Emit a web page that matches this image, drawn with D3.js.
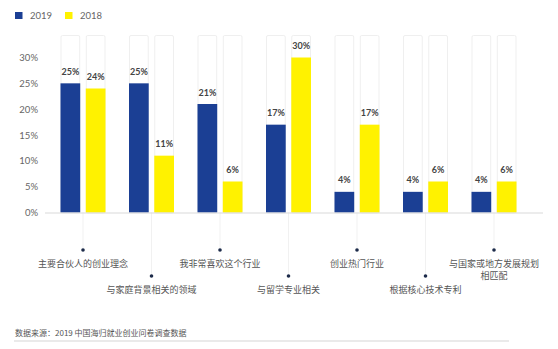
<!DOCTYPE html>
<html>
<head>
<meta charset="utf-8">
<script src="https://cdn.jsdelivr.net/npm/d3@7"></script>
<style>
  html, body { margin: 0; padding: 0; background: #fff; }
  svg { display: block; }
</style>
</head>
<body>
<svg id="chart" width="558" height="349"></svg>
<script>
// Reasons for choosing a startup field, 2019 vs 2018 survey
const categories = [
  "主要合伙人的创业理念",
  "与家庭背景相关的领域",
  "我非常喜欢这个行业",
  "与留学专业相关",
  "创业热门行业",
  "根据核心技术专利",
  "与国家或地方发展规划相匹配"
];
// Wrapped label lines for each category
const categoryLines = [
  ["主要合伙人的创业理念"],
  ["与家庭背景相关的领域"],
  ["我非常喜欢这个行业"],
  ["与留学专业相关"],
  ["创业热门行业"],
  ["根据核心技术专利"],
  ["与国家或地方发展规划", "相匹配"]
];
const seriesNames = ["2019", "2018"];
const values2019 = [25, 25, 21, 17, 4, 4, 4];
const values2018 = [24, 11, 6, 30, 17, 6, 6];
const yTicks = [0, 5, 10, 15, 20, 25, 30];
const sourceNote = "数据来源：2019 中国海归就业创业问卷调查数据";

const colors = { "2019": "#1b3f94", "2018": "#fff200" };
const latin = "Lato, 'Noto Sans', sans-serif";
const cjk = "'Noto Sans CJK SC', 'Noto Sans', sans-serif";

const svg = d3.select("#chart");

const x = d3.scaleBand().domain(categories).range([48.75, 528.25]).padding(0);
const xInner = d3.scaleBand().domain(seriesNames).range([0, 45]).paddingInner(0.22).paddingOuter(0);
const innerOffset = x.bandwidth() / 2 - 22.5;
const y = d3.scaleLinear().domain([0, 30]).range([212.5, 57.5]);
const trackTop = 35;

const rows = categories.map((c, i) => ({
  cat: c,
  lines: categoryLines[i],
  vals: [
    { key: "2019", value: values2019[i] },
    { key: "2018", value: values2018[i] }
  ]
}));

// Y axis labels (no axis line or ticks)
const yAxis = d3.axisLeft(y).tickValues(yTicks).tickFormat(d => d + "%").tickSize(0).tickPadding(0);
const yg = svg.append("g").attr("transform", "translate(38,0)").call(yAxis);
yg.select(".domain").remove();
yg.selectAll("text")
  .attr("fill", "#666")
  .style("font-family", latin)
  .style("font-size", "9.5px");

// Faint connector lines from the baseline to each category marker
const markerY = i => (i % 2 === 0 ? 250 : 276);
svg.append("g").selectAll("line")
  .data(rows)
  .join("line")
  .attr("x1", d => x(d.cat) + x.bandwidth() / 2)
  .attr("x2", d => x(d.cat) + x.bandwidth() / 2)
  .attr("y1", y(0))
  .attr("y2", (d, i) => markerY(i))
  .attr("stroke", "#f1f1f1")
  .attr("stroke-width", 1);

const groups = svg.append("g").selectAll("g")
  .data(rows)
  .join("g")
  .attr("transform", d => `translate(${x(d.cat) + innerOffset},0)`);

// Light outlined tracks behind each bar
groups.selectAll("rect.track")
  .data(d => d.vals)
  .join("rect")
  .attr("class", "track")
  .attr("x", d => xInner(d.key) + 0.5)
  .attr("y", trackTop + 0.5)
  .attr("width", xInner.bandwidth() - 1)
  .attr("height", y(0) - trackTop)
  .attr("rx", 1.5)
  .attr("fill", "none")
  .attr("stroke", "#efefef")
  .attr("stroke-width", 1);

// Bars
groups.selectAll("rect.bar")
  .data(d => d.vals)
  .join("rect")
  .attr("class", "bar")
  .attr("x", d => xInner(d.key))
  .attr("y", d => y(d.value))
  .attr("width", xInner.bandwidth())
  .attr("height", d => y(0) - y(d.value))
  .attr("fill", d => colors[d.key]);

// Value labels
groups.selectAll("text.val")
  .data(d => d.vals)
  .join("text")
  .attr("class", "val")
  .attr("x", d => xInner(d.key) + xInner.bandwidth() / 2)
  .attr("y", d => y(d.value) - 8.5)
  .attr("text-anchor", "middle")
  .attr("fill", "#444")
  .style("font-family", latin)
  .style("font-weight", "700")
  .style("font-size", "9px")
  .text(d => d.value + "%");

// Baseline
svg.append("line")
  .attr("x1", 45).attr("x2", 543)
  .attr("y1", y(0) + 0.5).attr("y2", y(0) + 0.5)
  .attr("stroke", "#d9d9d9")
  .attr("stroke-width", 1);

// Category markers and staggered labels
const cats = svg.append("g").selectAll("g")
  .data(rows)
  .join("g")
  .attr("transform", (d, i) => `translate(${x(d.cat) + x.bandwidth() / 2},${markerY(i)})`);

cats.append("circle")
  .attr("r", 1.8)
  .attr("fill", "#1d2b4a");

cats.each(function (d) {
  const t = d3.select(this).append("text")
    .attr("text-anchor", "middle")
    .attr("fill", "#555")
    .style("font-family", cjk)
    .style("font-size", "9px");
  d.lines.forEach((ln, j) => {
    t.append("tspan")
      .attr("x", 0)
      .attr("y", 16.5 + j * 12.5)
      .text(ln);
  });
});

// Legend
const legend = svg.append("g").selectAll("g")
  .data(seriesNames)
  .join("g")
  .attr("transform", (d, i) => `translate(${15 + i * 50},12)`);
legend.append("rect")
  .attr("width", 7.5).attr("height", 7)
  .attr("fill", d => colors[d]);
legend.append("text")
  .attr("x", 15).attr("y", 7)
  .attr("fill", "#666")
  .style("font-family", latin)
  .style("font-size", "9.5px")
  .text(d => d);

// Source note and footer rule
svg.append("text")
  .attr("x", 15).attr("y", 335.5)
  .attr("fill", "#555")
  .style("font-family", cjk)
  .style("font-size", "8px")
  .text(sourceNote);
svg.append("line")
  .attr("x1", 14).attr("x2", 509)
  .attr("y1", 341).attr("y2", 341)
  .attr("stroke", "#d5d5d5")
  .attr("stroke-width", 1);
</script>
</body>
</html>
